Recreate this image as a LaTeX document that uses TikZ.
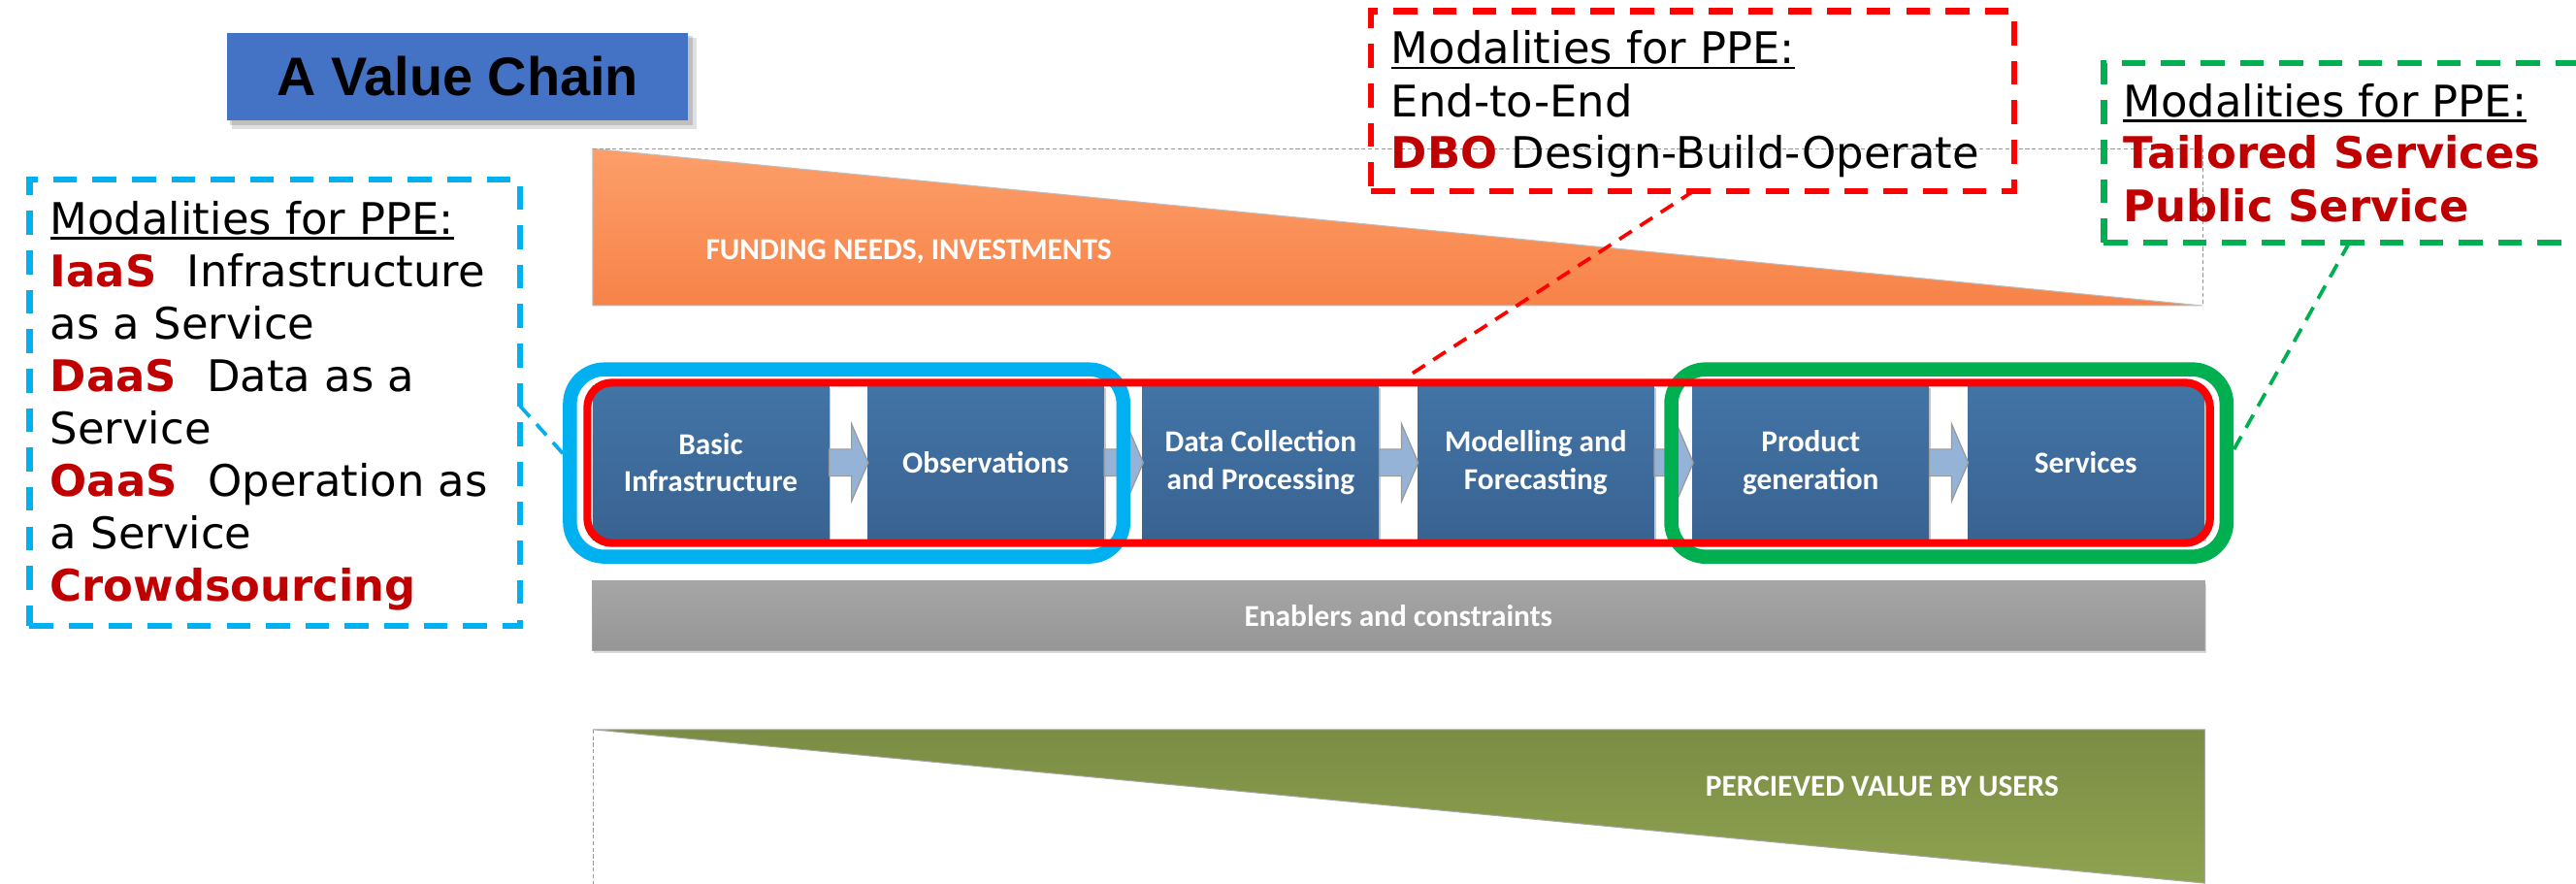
\documentclass[tikz,border=0pt]{standalone}
\usepackage{fontspec}
\setmainfont{DejaVu Sans}
\newfontfamily\calfont{Carlito}
\newfontfamily\arialfont{Liberation Sans}
\newcommand{\myul}[1]{\setbox0\hbox{#1}\rlap{\rule[-3.4pt]{\wd0}{1.6pt}}\box0}
\usetikzlibrary{calc,shadows}
\definecolor{cyanc}{RGB}{0,176,240}
\definecolor{redc}{RGB}{255,0,0}
\definecolor{greenc}{RGB}{0,176,80}
\definecolor{darkred}{RGB}{192,0,0}
\definecolor{titleblue}{RGB}{68,114,196}
\definecolor{boxtop}{RGB}{66,116,166}
\definecolor{boxbot}{RGB}{57,99,145}
\definecolor{arrowfill}{RGB}{149,179,215}
\definecolor{ortop}{RGB}{253,158,106}
\definecolor{orbot}{RGB}{247,131,72}
\definecolor{oltop}{RGB}{123,140,68}
\definecolor{olbot}{RGB}{142,163,80}
\definecolor{graytop}{RGB}{166,166,166}
\definecolor{graybot}{RGB}{150,150,150}
\begin{document}
\begin{tikzpicture}[x=1pt,y=-1pt,
  modtext/.style={anchor=base west, inner sep=0pt, outer sep=0pt, font=\fontsize{26.5}{32}\selectfont},
  stepbox/.style={top color=boxtop, bottom color=boxbot, minimum width=143.8pt, minimum height=93.7pt,
    inner sep=0pt, align=center, text=white, font=\calfont\bfseries\fontsize{18.5}{22.6}\selectfont,
    drop shadow={shadow xshift=1.3pt, shadow yshift=-1.3pt, opacity=0.3, fill=black!70}},
  blkarrow/.style={fill=arrowfill, draw=black!40, line width=0.7pt, line join=miter},
  dashbox/.style={line width=3.8pt, dash pattern=on 14.5pt off 9.5pt, inner sep=0pt, outer sep=0pt},
  conn/.style={line width=2.2pt, dash pattern=on 9pt off 6pt},
  frame/.style={draw=black!40, line width=0.7pt, dash pattern=on 2.5pt off 1.5pt},
  bartext/.style={text=white, font=\calfont\bfseries\fontsize{18.5}{22}\selectfont},
  ring/.style={inner sep=0pt, outer sep=0pt}
]
\path[use as bounding box] (0,0) rectangle (1568,538);
\clip (0,0) rectangle (1568,538);

% title
\fill[black, opacity=0.12] (141,23) rectangle (424,78.5);
\fill[black, opacity=0.15] (140,22) rectangle (421.5,76);
\node[fill=titleblue, minimum width=280.7pt, minimum height=53.1pt, inner sep=0pt] (title) at (278.65,46.65)
  {\arialfont\bfseries\fontsize{33}{40}\selectfont A Value Chain};

% funding triangle
\shade[top color=ortop, bottom color=orbot, draw=black!25, line width=0.6pt]
  (360.7,90.5) -- (360.7,186) -- (1340.3,186) -- cycle;
\draw[frame] (360.7,90.5) -- (1341,90.5) -- (1341,186);
\node[anchor=base west, inner sep=0pt, bartext] (fund) at (429.5,158) {FUNDING NEEDS, INVESTMENTS};

% enablers bar
\node[top color=graytop, bottom color=graybot, draw=black!35, line width=0.6pt,
  minimum width=981.6pt, minimum height=42.3pt, anchor=north west, outer sep=0pt, inner sep=0pt, bartext,
  drop shadow={shadow xshift=1pt, shadow yshift=-2pt, opacity=0.15, fill=black}]
  (enab) at (360.4,353.4) {Enablers and constraints};

% perceived value triangle
\shade[top color=oltop, bottom color=olbot, draw=black!35, line width=0.6pt]
  (361,444) -- (1342,444) -- (1342,537.5) -- cycle;
\draw[frame] (361,444) -- (361,538);
\node[anchor=base west, inner sep=0pt, bartext] (perc) at (1038,484.4) {PERCIEVED VALUE BY USERS};

% process boxes
\node[stepbox] (p1) at (432.6,281.55) {Basic\\Infrastructure};
\node[stepbox] (p2) at (600,281.55) {Observations};
\node[stepbox] (p3) at (767.4,281.55) {Data Collection\\and Processing};
\node[stepbox] (p4) at (934.8,281.55) {Modelling and\\Forecasting};
\node[stepbox] (p5) at (1102.2,281.55) {Product\\generation};
\node[stepbox] (p6) at (1269.6,281.55) {Services};

\foreach \a/\b in {p1/p2,p2/p3,p3/p4,p4/p5,p5/p6}{
  \filldraw[blkarrow] ($(\a.east)+(0,-8.2)$) -- ++(13.6,0) -- ++(0,-15.4) -- ($(\b.west)+(0.6,0)$)
    -- ($(\a.east)+(13.6,23.6)$) -- ++(0,-15.4) -- ($(\a.east)+(0,8.2)$) -- cycle;
}

% grouping rings
\node[ring, draw=cyanc, line width=8.5pt, rounded corners=21pt, minimum width=336.9pt, minimum height=114pt] (bluerr) at (515.35,281.8) {};
\node[ring, draw=greenc, line width=8.6pt, rounded corners=21pt, minimum width=338pt, minimum height=114pt] (greenrr) at (1186.3,281.8) {};
\node[ring, draw=redc, line width=4.8pt, rounded corners=15pt, minimum width=987.7pt, minimum height=97.6pt] (redrr) at (851.35,281.7) {};

% dashed callout boxes
\node[dashbox, draw=cyanc, anchor=north west, minimum width=298.6pt, minimum height=271.7pt] (bluebox) at (17.9,109.3) {};
\node[dashbox, draw=redc, anchor=north west, minimum width=391.4pt, minimum height=109.3pt] (redbox) at (834.6,6.9) {};
\node[dashbox, draw=greenc, anchor=north west, minimum width=330pt, minimum height=109.3pt] (greenbox) at (1280.6,38.4) {};

% blue box text
\node[modtext] (bt1) at (30.6,142.4) {\myul{Modalities for PPE:}};
\node[modtext] (bt2) at (30.6,174.3) {\textcolor{darkred}{\textbf{IaaS}}\hspace{0.7em}Infrastructure};
\node[modtext] (bt3) at (30.6,206.2) {as a Service};
\node[modtext] (bt4) at (30.6,238.1) {\textcolor{darkred}{\textbf{DaaS}}\hspace{0.7em}Data as a};
\node[modtext] (bt5) at (30.6,270) {Service};
\node[modtext] (bt6) at (30.6,302) {\textcolor{darkred}{\textbf{OaaS}}\hspace{0.7em}Operation as};
\node[modtext] (bt7) at (30.6,333.9) {a Service};
\node[modtext] (bt8) at (30.6,366) {\textcolor{darkred}{\textbf{Crowdsourcing}}};

% red box text
\node[modtext] (rt1) at (846.8,38.8) {\myul{Modalities for PPE:}};
\node[modtext] (rt2) at (846.8,70.9) {End-to-End};
\node[modtext] (rt3) at (846.8,102.4) {\textcolor{darkred}{\textbf{DBO}} Design-Build-Operate};

% green box text
\node[modtext] (gt1) at (1292.4,70.9) {\myul{Modalities for PPE:}};
\node[modtext] (gt2) at (1292.4,102.4) {\textcolor{darkred}{\textbf{Tailored Services}}};
\node[modtext] (gt3) at (1292.4,134.8) {\textcolor{darkred}{\textbf{Public Service}}};

% connectors
\coordinate (bcA) at (316.5,247);
\coordinate (bcB) at (342.6,276);
\coordinate (rcA) at (1031,116.2);
\coordinate (rcB) at (856.5,229.3);
\coordinate (gcA) at (1430,147.7);
\coordinate (gcB) at (1358.5,275.8);
\draw[conn, draw=cyanc] (bcA) -- (bcB);
\draw[conn, draw=redc] (rcA) -- (rcB);
\draw[conn, draw=greenc] (gcA) -- (gcB);
\end{tikzpicture}
\end{document}
